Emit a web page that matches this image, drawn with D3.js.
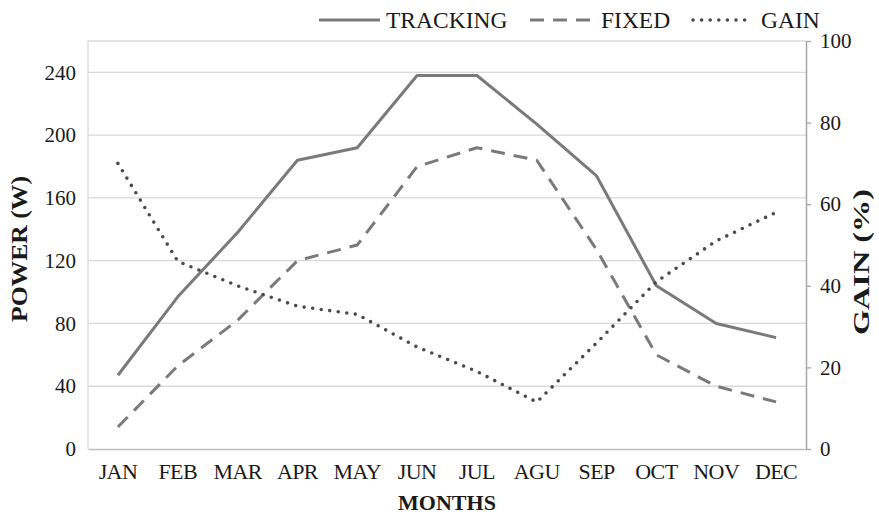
<!DOCTYPE html>
<html>
<head>
<meta charset="utf-8">
<script src="https://cdn.jsdelivr.net/npm/d3@7"></script>
<style>
  html, body { margin: 0; padding: 0; background: #fff; }
  svg, svg text { font-family: "Liberation Serif", "DejaVu Serif", serif !important; }
</style>
</head>
<body>
<svg id="chart" width="879" height="515"></svg>
<script>
// Monthly output of a sun-tracking panel vs. a fixed panel, and the gain in %
const months   = ["JAN","FEB","MAR","APR","MAY","JUN","JUL","AGU","SEP","OCT","NOV","DEC"];
const tracking = [47, 97, 138, 184, 192, 238, 238, 207, 174, 104, 80, 71];
const fixed    = [14, 53, 82, 120, 130, 180, 192, 184, 127, 60, 40, 30];
const gain     = [70, 46, 40, 35, 33, 25, 19, 11.5, 26, 41, 51, 58];
const powerTicks = [0, 40, 80, 120, 160, 200, 240];
const gainTicks  = [0, 20, 40, 60, 80, 100];

const svg = d3.select("#chart");
const m = { left: 88, right: 806, top: 41, bottom: 449 };

const x = d3.scaleBand().domain(months).range([m.left, m.right]).padding(0);
const cx = d => x(d) + x.bandwidth() / 2;
const yL = d3.scaleLinear().domain([0, 260]).range([m.bottom, m.top]);
const yR = d3.scaleLinear().domain([0, 100]).range([m.bottom, m.top]);

const ink = "#1a1a1a";
const lineGray = "#7a7a7a";
const serif = "'Liberation Serif', 'DejaVu Serif', serif";

// horizontal gridlines and plot frame
svg.append("g").selectAll("line").data(powerTicks.filter(t => t > 0)).join("line")
  .attr("x1", m.left).attr("x2", m.right)
  .attr("y1", d => yL(d)).attr("y2", d => yL(d))
  .attr("stroke", "#d9d9d9").attr("stroke-width", 1.3);
svg.append("line").attr("x1", m.left).attr("x2", m.right).attr("y1", m.top).attr("y2", m.top)
  .attr("stroke", "#d9d9d9").attr("stroke-width", 1.3);
svg.append("line").attr("x1", m.left).attr("x2", m.left).attr("y1", m.top).attr("y2", m.bottom)
  .attr("stroke", "#d9d9d9").attr("stroke-width", 1.3);

// left axis (labels only)
const leftAxis = svg.append("g").attr("transform", `translate(${m.left},0)`)
  .call(d3.axisLeft(yL).tickValues(powerTicks).tickSize(0).tickPadding(12));
leftAxis.attr("font-family", serif);
leftAxis.select(".domain").remove();
leftAxis.selectAll("text").attr("font-size", 21).attr("fill", ink).style("font-family", serif);

// bottom axis
const bottomAxis = svg.append("g").attr("transform", `translate(0,${m.bottom})`)
  .call(d3.axisBottom(x).tickSize(0).tickPadding(14));
bottomAxis.attr("font-family", serif);
bottomAxis.select(".domain").attr("stroke", "#bfbfbf").attr("stroke-width", 1.5);
bottomAxis.selectAll("text").attr("font-size", 22).attr("fill", ink).style("font-family", serif)
  .attr("letter-spacing", -0.6);

// right axis
const rightAxis = svg.append("g").attr("transform", `translate(${m.right},0)`)
  .call(d3.axisRight(yR).tickValues(gainTicks).tickSize(5).tickSizeOuter(0).tickPadding(9));
rightAxis.attr("font-family", serif);
rightAxis.select(".domain").attr("stroke", "#a6a6a6").attr("stroke-width", 1.5);
rightAxis.selectAll(".tick line").attr("stroke", "#a6a6a6").attr("stroke-width", 1.3);
rightAxis.selectAll("text").attr("font-size", 21).attr("fill", ink).style("font-family", serif);

// axis titles
svg.append("text").attr("x", 447).attr("y", 510).attr("text-anchor", "middle")
  .style("font-family", serif)
  .attr("font-size", 22).attr("font-weight", "bold").attr("fill", ink).text("MONTHS");
svg.append("text").attr("transform", "translate(27,249) rotate(-90)").attr("text-anchor", "middle")
  .style("font-family", serif)
  .attr("font-size", 23).attr("font-weight", "bold").attr("fill", ink)
  .attr("textLength", 146).attr("lengthAdjust", "spacingAndGlyphs").text("POWER (W)");
svg.append("text").attr("transform", "translate(869,262) rotate(-90)").attr("text-anchor", "middle")
  .style("font-family", serif)
  .attr("font-size", 23).attr("font-weight", "bold").attr("fill", ink)
  .attr("textLength", 146).attr("lengthAdjust", "spacingAndGlyphs").text("GAIN (%)");

// series
const styles = {
  tracking: { dash: null, color: lineGray, width: 3, cap: "butt" },
  fixed:    { dash: "14,9", color: lineGray, width: 3, cap: "butt" },
  gain:     { dash: "0,8.6", color: "#4a4a4a", width: 3.6, cap: "round" }
};

const lineL = d3.line().x((d, i) => cx(months[i])).y(d => yL(d));
const lineR = d3.line().x((d, i) => cx(months[i])).y(d => yR(d));

function drawSeries(values, gen, st) {
  svg.append("path").datum(values).attr("d", gen)
    .attr("fill", "none").attr("stroke", st.color).attr("stroke-width", st.width)
    .attr("stroke-linecap", st.cap).attr("stroke-linejoin", "round")
    .attr("stroke-dasharray", st.dash);
}
drawSeries(tracking, lineL, styles.tracking);
drawSeries(fixed, lineL, styles.fixed);
drawSeries(gain, lineR, styles.gain);

// legend
const legend = [
  { name: "TRACKING", st: styles.tracking, x0: 319, x1: 380, tx: 386 },
  { name: "FIXED",    st: styles.fixed,    x0: 530, x1: 594, tx: 601 },
  { name: "GAIN",     st: styles.gain,     x0: 693, x1: 753, tx: 761 }
];
const lg = svg.append("g");
legend.forEach(l => {
  lg.append("line").attr("x1", l.x0).attr("x2", l.x1).attr("y1", 20).attr("y2", 20)
    .attr("stroke", l.st.color).attr("stroke-width", l.st.width)
    .attr("stroke-linecap", l.st.cap).attr("stroke-dasharray", l.st.dash);
  lg.append("text").attr("x", l.tx).attr("y", 28).attr("font-size", 23.5)
    .style("font-family", serif).attr("fill", ink).text(l.name);
});
</script>
</body>
</html>
